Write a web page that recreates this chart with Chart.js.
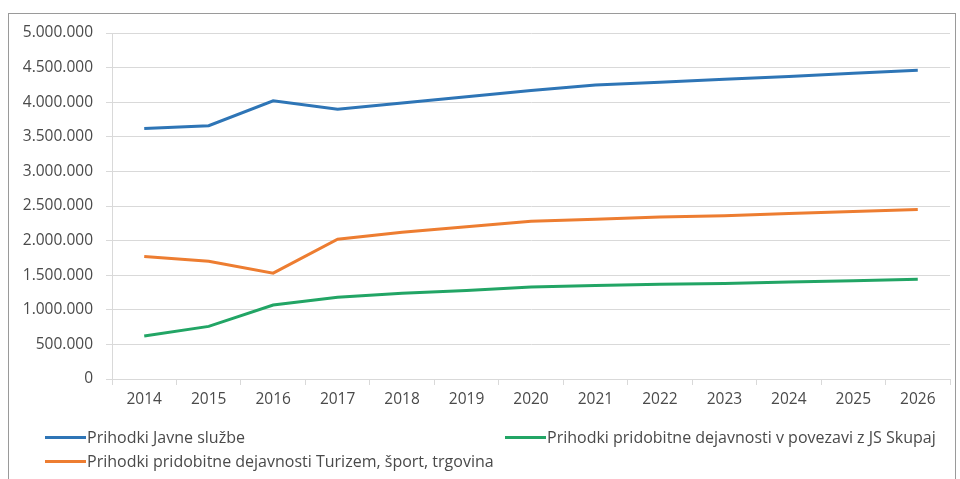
<!DOCTYPE html>
<html>
<head>
<meta charset="utf-8">
<script src="https://cdn.jsdelivr.net/npm/chart.js@4/dist/chart.umd.min.js"></script>
<style>
  html, body { margin: 0; padding: 0; background: #fff; }
  #wrap { position: relative; width: 960px; height: 479px; overflow: hidden; }
  #frame { position: absolute; left: 8px; top: 13px; width: 948px; height: 480px;
           border: 1px solid #9a9a9a; box-sizing: border-box; }
  canvas { position: absolute; left: 0; top: 0; }
  .leg { position: absolute; font-family: 'Open Sans', sans-serif; font-size: 16px; color: #4a4a4a;
         white-space: nowrap; line-height: 18px; }
  .leg span.ln { display: inline-block; width: 41px; height: 3px; vertical-align: middle;
                 margin-right: 1px; position: relative; top: -1px; }
</style>
</head>
<body>
<div id="wrap">
  <div id="frame"></div>
  <canvas id="c" width="960" height="479"></canvas>
  <div id="legend"></div>
</div>
<script>
const years = ['2014','2015','2016','2017','2018','2019','2020','2021','2022','2023','2024','2025','2026'];
const seriesNames = [
  'Prihodki Javne službe',
  'Prihodki pridobitne dejavnosti Turizem, šport, trgovina',
  'Prihodki pridobitne dejavnosti v povezavi z JS Skupaj'
];
const javneSluzbe = [3620000, 3660000, 4020000, 3900000, 3990000, 4080000, 4170000, 4250000, 4290000, 4330000, 4370000, 4420000, 4460000];
const turizem = [1770000, 1700000, 1530000, 2020000, 2120000, 2200000, 2280000, 2310000, 2340000, 2360000, 2390000, 2420000, 2450000];
const povezaviJS = [620000, 760000, 1070000, 1180000, 1240000, 1280000, 1330000, 1350000, 1370000, 1380000, 1400000, 1420000, 1440000];
const colors = ['#2e75b6', '#ed7d31', '#22a565'];
const yMin = 0, yMax = 5000000, yStep = 500000;

const fmt = v => String(v).replace(/\B(?=(\d{3})+(?!\d))/g, '.');

const mk = (label, data, color) => ({
  label, data, borderColor: color, backgroundColor: color,
  borderWidth: 3, pointRadius: 0, tension: 0, fill: false
});

new Chart(document.getElementById('c'), {
  type: 'line',
  data: {
    labels: years,
    datasets: [
      mk(seriesNames[0], javneSluzbe, colors[0]),
      mk(seriesNames[1], turizem, colors[1]),
      mk(seriesNames[2], povezaviJS, colors[2])
    ]
  },
  options: {
    responsive: false,
    animation: false,
    devicePixelRatio: 1,
    layout: { padding: { left: 0, top: 33, right: 10, bottom: 0 } },
    plugins: { legend: { display: false }, tooltip: { enabled: false } },
    scales: {
      x: {
        offset: true,
        grid: { offset: true, drawOnChartArea: false, drawTicks: true, tickLength: 6, color: '#d9d9d9' },
        border: { display: true, color: '#d9d9d9', width: 1 },
        ticks: { color: '#4a4a4a', font: { family: 'Open Sans', size: 15.5 }, padding: 5, maxRotation: 0, autoSkip: false },
        afterFit: s => { s.height = 100; }
      },
      y: {
        min: yMin, max: yMax,
        grid: { color: '#d9d9d9', tickLength: 6, lineWidth: 1 },
        border: { display: true, color: '#d9d9d9' },
        ticks: { stepSize: yStep, color: '#4a4a4a', font: { family: 'Open Sans', size: 15.5 }, padding: 13,
                 callback: v => fmt(v) },
        afterFit: s => { s.width = 112; }
      }
    }
  }
});

// HTML legend
const legPos = [[45, 428], [45, 452], [505, 428]];
const leg = document.getElementById('legend');
seriesNames.forEach((n, i) => {
  const d = document.createElement('div');
  d.className = 'leg';
  d.style.left = legPos[i][0] + 'px';
  d.style.top = legPos[i][1] + 'px';
  d.innerHTML = '<span class="ln" style="background:' + colors[i] + '"></span>' + n;
  leg.appendChild(d);
});
</script>
</body>
</html>
